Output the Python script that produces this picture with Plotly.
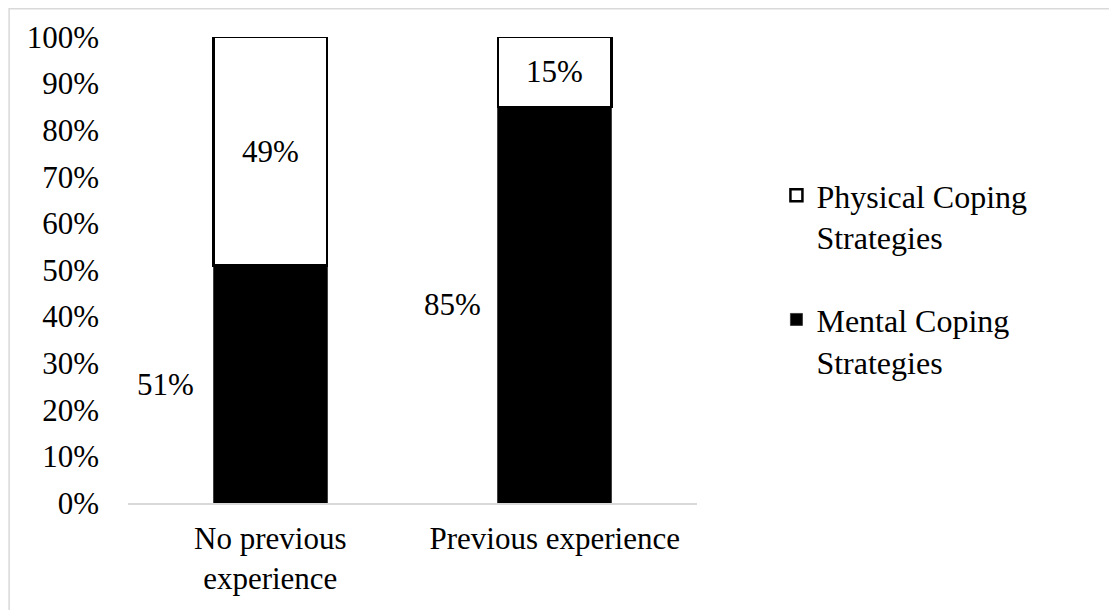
import plotly.graph_objects as go

categories = ["No previous<br>experience", "Previous experience"]
mental = [0.51, 0.85]
physical = [0.49, 0.15]
tick_vals = [i / 10 for i in range(11)]
label_shift = [-105, -102]

FONT = "Liberation Serif, Times New Roman, serif"
FS = 31

# page body has an 8px margin; geometry below is in figure coordinates
W, H = 1109, 602
L, R, T, B = 120, 419.5, 29, 107
PW, PH = W - L - R, H - T - B

fig = go.Figure()
fig.add_trace(go.Bar(
    x=categories, y=mental, name="Mental Coping<br>Strategies",
    marker=dict(color="black", line=dict(color="#404040", width=1)),
    legendgroup="m", legendrank=2, width=0.4,
))
fig.add_trace(go.Bar(
    x=categories, y=physical, name="Physical Coping<br>Strategies",
    marker=dict(color="white", line=dict(color="black", width=2.5)),
    legendgroup="p", legendrank=1, width=0.4,
))

annotations = []
for i, c in enumerate(categories):
    annotations.append(dict(x=c, y=mental[i] / 2, text=f"{round(mental[i]*100)}%",
                            showarrow=False, xshift=label_shift[i],
                            font=dict(family=FONT, size=FS, color="black")))
    annotations.append(dict(x=c, y=mental[i] + physical[i] / 2, text=f"{round(physical[i]*100)}%",
                            showarrow=False,
                            font=dict(family=FONT, size=FS, color="black")))

fig.update_layout(
    barmode="stack",
    width=W, height=H,
    margin=dict(l=L, r=R, t=T, b=B),
    paper_bgcolor="white", plot_bgcolor="white",
    font=dict(family=FONT, size=FS, color="black"),
    annotations=annotations,
    showlegend=True,
    legend=dict(
        x=(769 - L) / PW, xanchor="left", y=0.719, yanchor="top",
        traceorder="grouped", tracegroupgap=38,
        valign="top", font=dict(family=FONT, size=32, color="black"),
        itemwidth=30, bgcolor="rgba(0,0,0,0)",
    ),
    xaxis=dict(showgrid=False, showline=True, linecolor="#d9d9d9", linewidth=1.5,
               ticks="", tickfont=dict(family=FONT, size=FS), ticklabelstandoff=7),
    yaxis=dict(range=[0, 1], tickvals=tick_vals, tickformat=".0%", showgrid=False,
               showline=False, zeroline=False, ticks="", ticklabelstandoff=28,
               tickfont=dict(family=FONT, size=FS)),
    shapes=[dict(type="rect", xref="paper", yref="paper",
                 x0=(1 - L) / PW, x1=(W + 20 - L) / PW,
                 y0=(PH + T - (H + 20)) / PH, y1=(PH + T - 0.75) / PH,
                 line=dict(color="#d9d9d9", width=1.5), fillcolor="rgba(0,0,0,0)", layer="below")],
)

fig.write_html("out.html")
